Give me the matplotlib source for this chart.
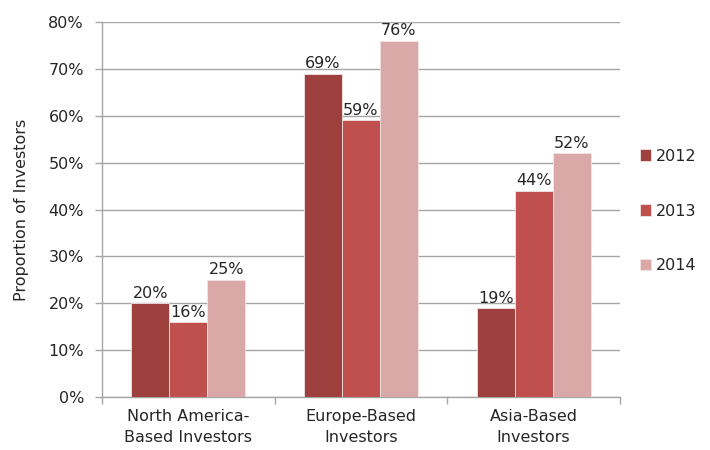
import matplotlib
matplotlib.use("Agg")
import matplotlib.pyplot as plt
import numpy as np

categories = ["North America-\nBased Investors", "Europe-Based\nInvestors", "Asia-Based\nInvestors"]
series_names = ["2012", "2013", "2014"]
v2012 = [20, 69, 19]
v2013 = [16, 59, 44]
v2014 = [25, 76, 52]
colors = ["#9E413E", "#C0504D", "#D9A8A7"]

plt.rcParams['font.family'] = ['DejaVu Sans']
fig = plt.figure(figsize=(7.1, 4.5), dpi=100)
ax = fig.add_axes([102/710, 1-397/450, 518/710, 375/450])

x = np.arange(len(categories))
w = 0.22
grid_c = "#A6A6A6"
txt_c = "#262626"
for i, (vals, name, c) in enumerate(zip([v2012, v2013, v2014], series_names, colors)):
    pos = x + (i - 1) * w
    bars = ax.bar(pos, vals, w, color=c, label=name, edgecolor="#F2E4E4", linewidth=0.6, zorder=3)
    for b, v in zip(bars, vals):
        ax.text(b.get_x() + b.get_width()/2, v + 0.5, f"{v}%", ha="center", va="bottom",
                fontsize=11.5, color=txt_c, zorder=4)

ax.set_xlim(-0.5, 2.5)
ax.set_ylim(0, 80)
ax.set_yticks(np.arange(0, 81, 10))
ax.set_yticklabels([f"{t}%" for t in range(0, 81, 10)], fontsize=11.5, color=txt_c)
ax.yaxis.grid(True, color=grid_c, linewidth=1, zorder=0)
ax.set_axisbelow(True)
ax.tick_params(axis="y", length=5, color=grid_c, width=1, pad=8)

ax.set_xticks([-0.5, 0.5, 1.5, 2.5])
ax.set_xticklabels([])
ax.tick_params(axis="x", length=5, color=grid_c, width=1)
for xi, lab in zip(x, categories):
    ax.text(xi, -2.6, lab, ha="center", va="top", fontsize=11.5, color=txt_c,
            linespacing=1.45, transform=ax.transData)

for s in ["top", "right"]:
    ax.spines[s].set_visible(False)
for s in ["left", "bottom"]:
    ax.spines[s].set_color(grid_c)
    ax.spines[s].set_linewidth(1)

ax.set_ylabel("Proportion of Investors", fontsize=11.5, color=txt_c, labelpad=14)

leg = ax.legend(loc="center left", bbox_to_anchor=(1.01, 0.496), frameon=False,
                fontsize=11.5, handlelength=0.7, handleheight=0.7, handletextpad=0.3,
                labelspacing=2.5)
for t in leg.get_texts():
    t.set_color(txt_c)

fig.savefig("out.png", dpi=100)
